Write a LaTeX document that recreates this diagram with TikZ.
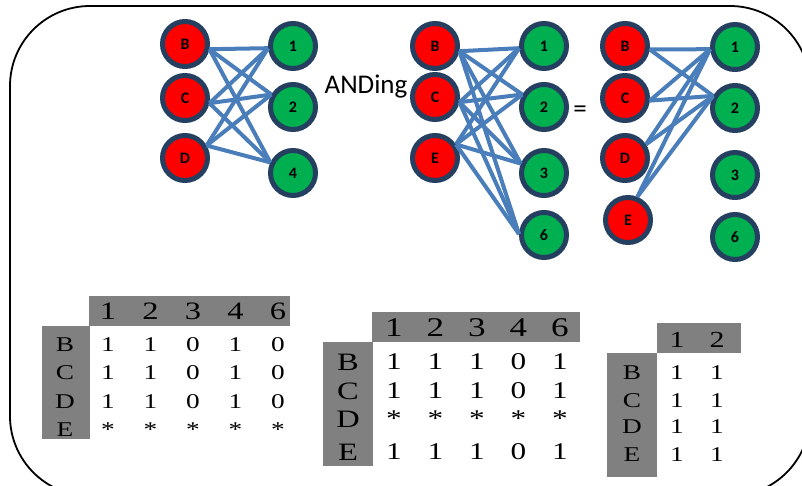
\documentclass[tikz,border=0pt]{standalone}
\usepackage{fontspec}
\setmainfont{Liberation Serif}
\newfontfamily\calibri{Carlito}

\definecolor{redv}{HTML}{FF0000}
\definecolor{greenv}{HTML}{00B050}
\definecolor{ring}{HTML}{243F60}
\definecolor{link}{HTML}{4A7EBB}
\definecolor{band}{HTML}{808080}

\newcommand{\fsz}[1]{\fontsize{#1}{#1}\selectfont}
% table entries are set a little wider than the plain face
\newcommand{\wide}[1]{\scalebox{1.3}[1]{#1}}

\begin{document}
\begin{tikzpicture}[x=1pt, y=-1pt,
    vert/.style={circle, draw=ring, line width=5pt, minimum size=45pt, inner sep=0pt,
                 font=\calibri\bfseries\fsz{16}},
    lvert/.style={vert, fill=redv},
    rvert/.style={vert, fill=greenv},
    edge/.style={draw=link, line width=4pt},
    word/.style={font=\calibri\fsz{27}}]

    \useasboundingbox (0,0) rectangle (802,485);

    % Rounded frame, running off the page on the right and at the bottom
    \draw[line width=1.8pt, rounded corners=80pt] (10,6) rectangle (810,496);

    % First graph: B, C, D against 1, 2, 4
    \node[lvert] (lB) at (185,44)  {B};
    \node[lvert] (lC) at (185,98)  {C};
    \node[lvert] (lD) at (185,158) {D};
    \node[rvert] (l1) at (293,46)  {1};
    \node[rvert] (l2) at (293,107) {2};
    \node[rvert] (l4) at (293,173) {4};
    \foreach \u/\a in {B/-12, C/-12, D/30}
        \foreach \v/\b in {1/185, 2/150, 4/155}
            \draw[edge] (l\u.\a) -- (l\v.\b);

    \node[word] (anding) at (366,87) {ANDing};

    % Second graph: B, C, E against 1, 2, 3, 6
    \node[lvert] (mB) at (435,46)  {B};
    \node[lvert] (mC) at (435,97)  {C};
    \node[lvert] (mE) at (435,158) {E};
    \node[rvert] (m1) at (544,46)  {1};
    \node[rvert] (m2) at (544,107) {2};
    \node[rvert] (m3) at (544,173) {3};
    \node[rvert] (m6) at (544,235) {6};
    \foreach \u/\a in {B/-12, C/-12, E/33}
        \foreach \v/\b in {1/185, 2/150, 3/158, 6/178}
            \draw[edge] (m\u.\a) -- (m\v.\b);

    \node[word] (equals) at (580,112) {=};

    % Result: every row hits only 1 and 2
    \node[lvert] (rB) at (625,46)  {B};
    \node[lvert] (rC) at (625,98)  {C};
    \node[lvert] (rD) at (625,158) {D};
    \node[lvert] (rE) at (628,220) {E};
    \node[rvert] (r1) at (735,47)  {1};
    \node[rvert] (r2) at (735,108) {2};
    \node[rvert] (r3) at (735,175) {3};
    \node[rvert] (r6) at (735,237) {6};
    \foreach \u/\a in {B/-8, C/-6, D/33, E/68}
        \foreach \v/\b in {1/185, 2/151}
            \draw[edge] (r\u.\a) -- (r\v.\b);

    % Table under the first graph
    \fill[band] (89,296) rectangle (290,326);
    \fill[band] (42,326) rectangle (90,439);
    \foreach \c [count=\i] in {1,2,3,4,6}
        \node[font=\fsz{25}] (ta-h\i) at ({108+42.5*(\i-1)},311) {\wide{\c}};
    \foreach \r/\y/\vals in {B/345/{1,1,0,1,0}, C/373/{1,1,0,1,0},
                             D/402/{1,1,0,1,0}, E/430/{*,*,*,*,*}} {
        \node[font=\fsz{21}] (ta-\r) at (65,\y) {\wide{\r}};
        \foreach \v [count=\i] in \vals
            \node[font=\fsz{21}] (ta-\r\i) at ({108+42.5*(\i-1)},\y) {\wide{\v}};
    }

    % Table under the second graph
    \fill[band] (372,312) rectangle (580,342);
    \fill[band] (323,342) rectangle (373,466);
    \foreach \c [count=\i] in {1,2,3,4,6}
        \node[font=\fsz{27}] (tb-h\i) at ({394+41.5*(\i-1)},328) {\wide{\c}};
    \foreach \r/\y/\vals in {B/362/{1,1,1,0,1}, C/391/{1,1,1,0,1},
                             D/419/{*,*,*,*,*}, E/452/{1,1,1,0,1}} {
        \node[font=\fsz{25}] (tb-\r) at (348,\y) {\wide{\r}};
        \foreach \v [count=\i] in \vals
            \node[font=\fsz{24}] (tb-\r\i) at ({394+41.5*(\i-1)},\y) {\wide{\v}};
    }

    % Table under the result
    \fill[band] (657,323) rectangle (741,353);
    \fill[band] (607,353) rectangle (657,477);
    \foreach \c [count=\i] in {1,2}
        \node[font=\fsz{23}] (tc-h\i) at ({677+40*(\i-1)},340) {\wide{\c}};
    \foreach \r/\y in {B/373, C/401, D/427, E/455} {
        \node[font=\fsz{21}] (tc-\r) at (632,\y) {\wide{\r}};
        \foreach \i in {1,2}
            \node[font=\fsz{21}] (tc-\r\i) at ({677+40*(\i-1)},\y) {\wide{1}};
    }

\end{tikzpicture}
\end{document}
